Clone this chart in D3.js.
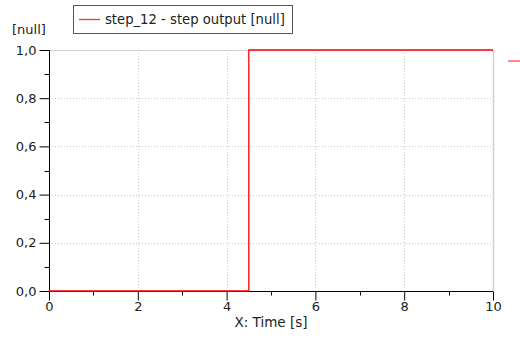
<!DOCTYPE html>
<html>
<head>
<meta charset="utf-8">
<script src="https://cdn.jsdelivr.net/npm/d3@7"></script>
<style>
  body { margin: 0; background: #fff; }
  text { font-family: "DejaVu Sans", sans-serif; fill: #222; }
</style>
</head>
<body>
<div id="chart"></div>
<script>
// step_12 output: step at t = 4.5 s
var times = [0, 4.5, 10];
var values = [0, 1, 1];
var xTicks = [0, 2, 4, 6, 8, 10];
var yTicks = [0, 0.2, 0.4, 0.6, 0.8, 1.0];
var seriesName = "step_12 - step output [null]";

var width = 520, height = 338;
var margin = {top: 50, right: 27, bottom: 47, left: 49};
var tickFont = "DejaVu Sans Condensed, DejaVu Sans, sans-serif";

var svg = d3.select("#chart").append("svg")
  .attr("width", width)
  .attr("height", height);

var x = d3.scaleLinear().domain([0, 10]).range([margin.left, width - margin.right]);
var y = d3.scaleLinear().domain([0, 1]).range([height - margin.bottom, margin.top]);

var fmt = function(d) { return d3.format(".1f")(d).replace(".", ","); };

// grid
svg.append("g")
  .selectAll("line.gx")
  .data(xTicks.filter(function(d) { return d > 0 && d < 10; }))
  .enter().append("line")
  .attr("x1", function(d) { return Math.round(x(d)) + 0.5; })
  .attr("x2", function(d) { return Math.round(x(d)) + 0.5; })
  .attr("y1", y(1)).attr("y2", y(0))
  .attr("stroke", "#c8c8c8")
  .attr("stroke-dasharray", "1,2");

svg.append("g")
  .selectAll("line.gy")
  .data(yTicks.filter(function(d) { return d > 0 && d < 1; }))
  .enter().append("line")
  .attr("x1", x(0)).attr("x2", x(10))
  .attr("y1", function(d) { return Math.round(y(d)) + 0.5; })
  .attr("y2", function(d) { return Math.round(y(d)) + 0.5; })
  .attr("stroke", "#c8c8c8")
  .attr("stroke-dasharray", "1,2");

// top & right frame
svg.append("line")
  .attr("x1", x(0)).attr("x2", Math.round(x(10)) + 0.5)
  .attr("y1", Math.round(y(1)) + 0.5).attr("y2", Math.round(y(1)) + 0.5)
  .attr("stroke", "#d0d0d0");
svg.append("line")
  .attr("x1", Math.round(x(10)) + 0.5).attr("x2", Math.round(x(10)) + 0.5)
  .attr("y1", y(1)).attr("y2", y(0))
  .attr("stroke", "#d0d0d0").attr("stroke-width", 1.5);

// axes
var xAxis = d3.axisBottom(x).tickValues(xTicks).tickSize(9).tickPadding(1).tickFormat(d3.format("d"));
var gx = svg.append("g")
  .attr("transform", "translate(0," + (Math.round(y(0)) + 0.5) + ")")
  .call(xAxis);
gx.selectAll("line").attr("stroke", "#000");
gx.select(".domain").attr("stroke", "#000").attr("d", "M" + x(0) + ",0H" + x(10));
gx.selectAll("text").attr("font-size", 13).attr("font-family", tickFont).attr("fill", "#222");
gx.selectAll(".minor")
  .data(d3.range(1, 10, 2))
  .enter().append("line")
  .attr("x1", function(d) { return Math.round(x(d)) + 0.5; })
  .attr("x2", function(d) { return Math.round(x(d)) + 0.5; })
  .attr("y1", 0).attr("y2", 4)
  .attr("stroke", "#000");

var yAxis = d3.axisLeft(y).tickValues(yTicks).tickSize(10).tickPadding(3).tickFormat(fmt);
var gy = svg.append("g")
  .attr("transform", "translate(" + (Math.round(x(0)) + 0.5) + ",0)")
  .call(yAxis);
gy.selectAll("line").attr("stroke", "#000");
gy.select(".domain").attr("stroke", "#000").attr("d", "M0," + y(1) + "V" + (y(0) + 9));
gy.selectAll("text").attr("font-size", 13).attr("font-family", tickFont).attr("fill", "#222");
gy.selectAll(".minor")
  .data([0.1, 0.3, 0.5, 0.7, 0.9])
  .enter().append("line")
  .attr("x1", -5).attr("x2", 0)
  .attr("y1", function(d) { return Math.round(y(d)) + 0.5; })
  .attr("y2", function(d) { return Math.round(y(d)) + 0.5; })
  .attr("stroke", "#000");

// series
var line = d3.line()
  .x(function(d, i) { return x(times[i]); })
  .y(function(d) { return y(d); })
  .curve(d3.curveStepAfter);

svg.append("path")
  .datum(values)
  .attr("d", line)
  .attr("fill", "none")
  .attr("stroke", "#ff0000")
  .attr("stroke-width", 1.3);

// labels
svg.append("text")
  .attr("x", 12).attr("y", 34)
  .attr("font-size", 13)
  .attr("font-family", tickFont)
  .text("[null]");

svg.append("text")
  .attr("x", (x(0) + x(10)) / 2)
  .attr("y", 327)
  .attr("text-anchor", "middle")
  .attr("font-size", 13.5)
  .text("X: Time [s]");

// legend
var lg = svg.append("g");
lg.append("rect")
  .attr("x", 73.5).attr("y", 5.5)
  .attr("width", 219).attr("height", 28)
  .attr("fill", "#fff")
  .attr("stroke", "#555");
lg.append("line")
  .attr("x1", 79).attr("x2", 100)
  .attr("y1", 19.5).attr("y2", 19.5)
  .attr("stroke", "#ff3030")
  .attr("stroke-width", 1.3);
lg.append("text")
  .attr("x", 105).attr("y", 24)
  .attr("font-size", 13.2)
  .text(seriesName);

// clipped legend marker at right edge
svg.append("line")
  .attr("x1", 508).attr("x2", 520)
  .attr("y1", 61).attr("y2", 61)
  .attr("stroke", "#ff6060")
  .attr("stroke-width", 1.5);
</script>
</body>
</html>
